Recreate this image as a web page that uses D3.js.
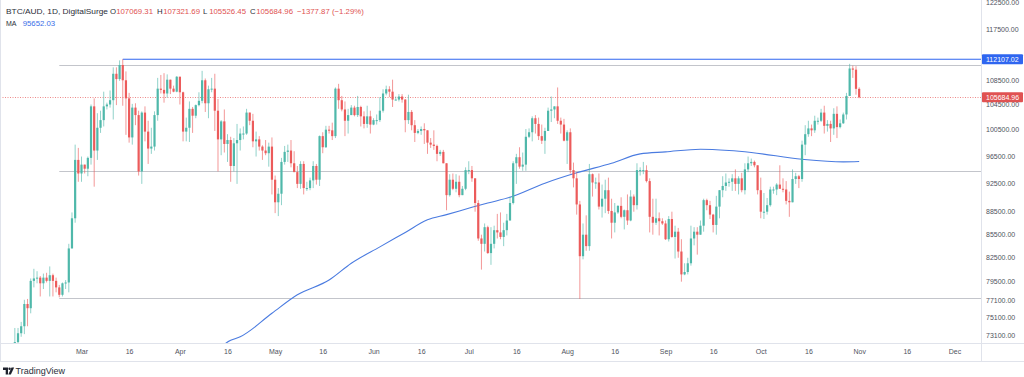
<!DOCTYPE html>
<html><head><meta charset="utf-8">
<script src="https://cdn.jsdelivr.net/npm/d3@7"></script>
<style>html,body{margin:0;padding:0;background:#fff;overflow:hidden}svg{display:block}</style>
</head><body><svg id="c" width="1024" height="377"></svg>
<script>
// ---------- DATA (AUD, thousands) ----------
const startDate = "2024-02-09";
const firstOpen = 69.5;
const closes = [
72.3,73.3,74.1,76.7,76.2,79.5,79.8,79.9,79.2,79.9,79.5,80.2,79.5,78.7,77.8,79.2,79.3,83.6,87.6,95.9,93.9,
95.2,94.6,96.2,104.2,97.3,100.8,102.0,104.2,104.5,105.2,109.6,108.7,111.1,108.5,105.5,99.3,104.0,102.8,94.2,103.2,100.2,97.6,97.9,102.8,107.1,106.9,106.3,108.6,107.1,106.6,109.1,
106.5,100.2,100.8,103.8,102.7,104.4,105.1,108.5,104.7,107.0,107.1,103.5,99.0,101.8,98.3,98.9,95.0,98.4,98.9,99.9,99.9,103.2,101.9,98.7,99.0,97.9,97.3,96.9,97.9,93.0,
89.8,91.0,95.6,97.1,97.3,95.4,94.1,92.4,95.3,91.8,91.8,92.9,95.0,93.0,99.5,97.8,100.5,100.4,99.5,107.1,105.2,103.7,101.9,102.8,104.0,102.8,104.1,102.6,101.4,102.6,101.3,
102.0,102.0,103.5,106.3,107.0,106.6,105.3,105.3,105.8,105.3,102.0,103.3,101.2,100.0,100.3,100.6,100.4,98.5,98.2,98.0,96.8,97.1,95.4,90.8,93.0,91.7,92.7,90.8,91.7,94.4,
94.4,93.2,89.7,84.9,84.2,86.4,83.0,84.2,86.0,85.7,85.1,86.0,87.3,89.7,95.4,96.3,94.9,95.2,99.4,100.1,102.3,101.4,99.5,98.8,100.3,103.5,103.7,104.2,101.9,101.3,98.8,
100.1,94.4,93.2,89.5,82.6,85.4,83.9,93.8,92.6,92.6,89.2,90.3,91.5,88.6,87.0,88.4,89.3,87.8,88.7,87.3,90.6,89.4,94.4,94.4,94.4,92.8,87.8,87.0,87.6,87.2,86.9,
84.8,87.5,85.1,85.8,83.2,80.3,80.6,81.7,84.9,85.8,85.4,86.6,90.1,89.4,88.1,86.7,89.2,91.5,92.1,92.6,92.7,93.2,92.4,93.2,91.5,94.5,95.4,95.6,95.1,91.5,
88.5,88.5,89.4,91.6,91.6,92.3,91.7,91.6,90.0,89.8,93.1,93.5,93.1,98.2,99.8,100.7,100.4,101.9,101.9,103.2,101.1,101.4,100.7,103.0,100.9,101.5,102.9,105.9,110.5,110.3,107.06931,
105.68496];
const highs = [
73.9,73.9,74.6,77.2,77.3,79.8,81.0,80.7,80.1,80.4,80.5,81.3,80.4,79.9,79.0,79.3,79.6,84.2,88.4,98.2,97.7,
96.4,95.2,96.4,104.5,105.5,103.1,103.5,106.6,104.8,106.8,110.7,110.7,111.9,112.10702,110.0,106.4,104.6,104.7,103.5,103.4,104.2,101.9,100.8,103.4,108.9,109.4,109.7,109.5,108.6,107.6,109.2,
109.1,106.6,102.4,105.0,104.1,104.5,106.5,110.1,108.8,107.6,108.9,109.6,105.4,102.0,103.7,99.8,99.4,99.2,101.4,100.7,101.0,103.8,103.2,103.0,100.2,99.5,98.1,98.9,98.5,99.3,
93.6,91.8,96.2,98.0,98.2,98.9,97.2,95.0,95.7,95.7,92.7,93.3,95.7,95.3,99.6,100.1,101.1,101.1,101.6,107.3,107.9,105.9,105.0,103.8,104.4,104.3,105.9,104.3,103.4,104.3,103.5,
102.3,102.9,105.7,107.0,107.6,107.5,108.6,105.8,106.2,106.2,105.4,106.1,103.6,102.0,100.6,101.0,101.5,99.8,99.2,100.4,98.2,97.4,97.4,95.4,93.8,93.9,93.8,93.6,92.1,94.8,
95.7,95.0,92.8,90.1,85.4,86.9,86.6,86.4,86.6,88.2,88.4,87.0,88.2,90.6,95.7,96.8,97.8,97.0,100.6,100.7,102.6,102.8,102.4,101.3,100.8,104.0,105.8,104.2,107.3,102.4,102.2,
100.4,100.7,95.5,94.1,90.0,86.9,88.0,95.3,93.9,93.3,93.9,92.3,93.0,93.3,90.3,89.7,89.4,90.5,88.8,90.9,91.5,90.9,95.4,94.8,95.6,95.1,93.2,90.3,90.3,88.4,87.6,
87.3,87.9,88.5,86.6,86.3,84.8,81.7,82.4,86.6,86.4,86.4,87.3,90.3,90.3,90.0,88.2,90.7,91.5,93.5,93.9,93.2,93.8,94.5,93.5,94.0,95.4,96.4,96.1,95.8,94.8,
93.3,91.1,90.4,92.0,92.0,92.5,95.1,93.2,92.8,91.3,94.5,94.0,93.7,98.8,101.2,101.9,101.3,102.7,102.4,103.8,104.3,102.0,101.9,103.9,104.2,102.1,103.2,106.4,111.3,111.0,110.9,
107.32169];
const lows = [
69.5,71.8,72.9,73.2,74.1,75.6,78.7,79.2,77.6,78.5,79.3,77.6,77.6,78.1,77.5,77.6,78.5,78.1,83.6,87.0,92.7,
92.7,93.9,93.5,95.2,92.0,95.9,100.0,101.0,103.7,104.0,102.1,104.4,108.4,104.3,99.7,98.5,98.2,101.2,93.6,92.4,98.7,95.3,96.8,97.3,101.9,106.3,104.8,105.6,106.2,106.5,106.5,
104.5,98.7,98.7,98.6,100.0,102.3,104.2,104.7,103.3,102.3,106.5,100.3,94.2,96.6,97.0,95.6,92.7,94.2,92.4,97.3,99.0,99.7,101.2,97.8,96.4,97.3,95.9,96.6,94.9,90.9,
88.3,87.9,89.4,95.2,95.6,94.8,94.1,91.8,91.7,90.9,91.4,91.5,91.8,92.3,92.1,96.9,97.7,99.9,98.9,99.2,103.8,103.4,99.5,99.9,102.8,102.6,102.5,101.0,100.7,100.8,99.9,
101.2,101.3,101.7,103.2,106.0,105.7,104.1,105.2,105.0,104.8,100.1,101.4,100.4,98.6,99.8,99.7,98.3,96.8,97.7,97.4,95.7,96.5,95.4,88.7,90.6,91.5,91.2,90.5,90.8,91.5,
93.8,92.7,88.5,84.6,80.9,83.2,82.9,81.5,83.6,84.9,84.8,83.9,85.3,87.3,89.5,92.4,94.6,94.3,94.3,99.2,98.7,99.9,98.9,98.3,96.8,100.3,101.7,102.3,101.4,99.9,98.7,
95.3,93.9,91.9,88.1,77.3,82.2,83.3,83.3,90.6,91.7,88.8,87.7,88.3,88.2,84.9,85.7,88.2,87.6,86.1,86.7,87.2,88.5,88.8,93.6,93.8,92.6,85.7,85.4,86.7,85.3,86.7,
84.7,84.5,85.0,82.3,82.4,79.4,80.2,80.3,81.4,84.0,82.8,85.5,85.8,88.7,87.5,85.7,85.4,87.6,90.5,91.4,92.0,91.4,91.4,90.9,91.2,90.9,94.1,95.0,94.8,90.9,
87.6,87.5,88.1,89.2,91.0,90.8,91.7,91.2,89.5,87.8,89.8,92.4,91.8,92.7,96.6,99.4,99.5,100.0,101.3,101.7,99.9,100.2,98.6,99.7,99.2,100.7,101.4,102.1,105.9,108.9,106.1,
105.52645];

const maDates = ["2024-04-10","2024-04-17","2024-04-20","2024-04-30","2024-05-08","2024-05-18","2024-05-25","2024-06-03","2024-06-11","2024-06-18","2024-06-24","2024-07-02","2024-07-07","2024-07-14","2024-07-25","2024-08-04","2024-08-15","2024-08-24","2024-09-01","2024-09-12","2024-09-21","2024-09-28","2024-10-14","2024-10-27","2024-11-01"];
const maValues = [70.6,72.5,72.9,75.6,77.8,79.6,81.7,83.8,85.7,87.4,88.1,89.1,89.7,90.5,92.5,94.0,95.4,96.8,97.1,97.5,97.3,97.0,96.0,95.6,95.65203];

const priceTicks = [122500,117500,112500,108500,104500,100500,96500,92500,88500,85500,82500,79500,77100,75100,73100];
const timeTicks = ["2024-03-01","2024-03-16","2024-04-01","2024-04-16","2024-05-01","2024-05-16","2024-06-01","2024-06-16","2024-07-01","2024-07-16","2024-08-01","2024-08-16","2024-09-01","2024-09-16","2024-10-01","2024-10-16","2024-11-01","2024-11-16","2024-12-01"];
const levelValues = [111100, 94250, 77400];
const levelStart = "2024-02-23";
const resistanceValue = 112107.02;
const resistanceStart = "2024-03-14";
const lastPrice = 105684.96;
const symbolText = "BTC/AUD, 1D, DigitalSurge";
const ohlcLabels = ["O","H","L","C"];
const ohlcValues = ["107069.31","107321.69","105526.45","105684.96"];
const changeText = "\u22121377.87 (\u22121.29%)";
const maLabel = "MA";
const maLast = "95652.03";

// ---------- LAYOUT ----------
const W = 1024, H = 377;
const plotR = 981, plotB = 343, axisB = 361;
const UP = "#4fb8aa", DOWN = "#ec5b5b", BLUE = "#2f66f0", MAC = "#4a7be0";
const parse = d3.utcParse("%Y-%m-%d");
const svg = d3.select("#c");

const x = d3.scaleUtc().domain([parse("2024-03-01"), parse("2024-12-01")]).range([81.5, 954.4]);
const y = d3.scaleLog().domain([73100, 122500]).range([335.0, 2]);

const start = parse(startDate);
const candles = closes.map((c, i) => {
  const o = i === 0 ? firstOpen : closes[i - 1];
  const cc = c * 1000, oo = o * 1000;
  return {d: d3.utcDay.offset(start, i), o: oo, c: cc,
          h: Math.max(highs[i] * 1000, oo, cc), l: Math.min(lows[i] * 1000, oo, cc)};
});

svg.append("rect").attr("width", W).attr("height", H).attr("fill", "#fff");
svg.append("defs").append("clipPath").attr("id", "plot")
  .append("rect").attr("x", 0).attr("y", 0).attr("width", plotR).attr("height", plotB);

const g = svg.append("g").attr("clip-path", "url(#plot)");

// levels
const lx0 = x(parse(levelStart));
levelValues.forEach(v => {
  g.append("line").attr("x1", lx0).attr("x2", plotR).attr("y1", Math.round(y(v)) + 0.5).attr("y2", Math.round(y(v)) + 0.5)
    .attr("stroke", "#c3c5cb").attr("stroke-width", 1);
});
// resistance
g.append("line").attr("x1", x(parse(resistanceStart))).attr("x2", plotR)
  .attr("y1", y(resistanceValue)).attr("y2", y(resistanceValue))
  .attr("stroke", BLUE).attr("stroke-width", 1.1);
// last price dotted
g.append("line").attr("x1", 0).attr("x2", plotR).attr("y1", Math.round(y(lastPrice)) + 0.5).attr("y2", Math.round(y(lastPrice)) + 0.5)
  .attr("stroke", "#ee8a8a").attr("stroke-width", 1).attr("stroke-dasharray", "1,1.5");

// MA
const maPts = maDates.map((d, i) => [parse(d), maValues[i] * 1000]);
g.append("path").datum(maPts)
  .attr("d", d3.line().x(d => x(d[0])).y(d => y(d[1])).curve(d3.curveMonotoneX))
  .attr("fill", "none").attr("stroke", MAC).attr("stroke-width", 1.1);

// candles
const cg = g.append("g");
candles.forEach(k => {
  const cx = x(k.d);
  const col = k.c >= k.o ? UP : DOWN;
  cg.append("line").attr("x1", cx).attr("x2", cx).attr("y1", y(k.h)).attr("y2", y(k.l))
    .attr("stroke", col).attr("stroke-width", 0.9).attr("stroke-opacity", 0.7);
  const top = y(Math.max(k.o, k.c)), bot = y(Math.min(k.o, k.c));
  cg.append("rect").attr("x", cx - 1.1).attr("width", 2.2)
    .attr("y", top).attr("height", Math.max(1, bot - top)).attr("fill", col);
});

// frame lines
const fr = svg.append("g").attr("stroke", "#e0e3eb").attr("stroke-width", 1);
fr.append("line").attr("x1", 0).attr("x2", W).attr("y1", plotB + 0.5).attr("y2", plotB + 0.5);
fr.append("line").attr("x1", 0).attr("x2", W).attr("y1", axisB + 0.5).attr("y2", axisB + 0.5);
fr.append("line").attr("x1", plotR + 0.5).attr("x2", plotR + 0.5).attr("y1", 0).attr("y2", axisB);
fr.append("line").attr("x1", 0.5).attr("x2", 0.5).attr("y1", 0).attr("y2", axisB);

// price axis
const ya = svg.append("g").attr("transform", `translate(${plotR},0)`)
  .call(d3.axisRight(y).tickValues(priceTicks).tickFormat(d3.format(".2f")).tickSize(0).tickPadding(5));
ya.select(".domain").remove();
ya.selectAll("text").attr("font-family", "Liberation Sans, Arial, sans-serif").attr("font-size", 7).attr("fill", "#50535e");

// price labels
function tag(v, fill, txt) {
  const yy = y(v);
  svg.append("rect").attr("x", plotR + 1).attr("y", yy - 5).attr("width", 41).attr("height", 10).attr("fill", fill).attr("rx", 1);
  svg.append("text").attr("x", plotR + 5).attr("y", yy).attr("dy", "0.35em").attr("fill", "#fff")
    .attr("font-family", "Liberation Sans, Arial, sans-serif").attr("font-size", 7).text(txt);
}
tag(resistanceValue, BLUE, d3.format(".2f")(resistanceValue));
tag(lastPrice, "#e05252", d3.format(".2f")(lastPrice));

// time axis
const fmt = d => d.getUTCDate() === 1 ? d3.utcFormat("%b")(d) : String(d.getUTCDate());
const xa = svg.append("g").attr("transform", `translate(0,${plotB})`)
  .call(d3.axisBottom(x).tickValues(timeTicks.map(parse)).tickFormat(fmt).tickSize(0).tickPadding(6));
xa.select(".domain").remove();
xa.selectAll("text").attr("font-family", "Liberation Sans, Arial, sans-serif").attr("font-size", 7).attr("fill", "#50535e");

// header
const hf = "Liberation Sans, Arial, sans-serif";
function htext(xp, yp, txt, fill, len) {
  const t = svg.append("text").attr("x", xp).attr("y", yp).attr("dy", "0.35em").attr("font-family", hf)
    .attr("font-size", 7.8).attr("fill", fill).text(txt);
  if (len) t.attr("textLength", len).attr("lengthAdjust", "spacingAndGlyphs");
  return t;
}
htext(6, 11, symbolText, "#2a2e39", 102);
const ohX = [110, 157, 203, 250];
ohlcLabels.forEach((l, i) => {
  htext(ohX[i], 11, l, "#2a2e39");
  htext(ohX[i] + 6.2, 11, ohlcValues[i], "#e05252");
});
htext(297, 11, changeText, "#e05252");
htext(6, 23, maLabel, "#2a2e39", 10.5);
htext(22.7, 23, maLast, "#3a6ee8");

// TradingView logo
const lg = svg.append("g").attr("fill", "#1e222d");
lg.append("path").attr("d", "M3,367.5 h5 v7 h-2.3 v-4.6 h-2.7 z");
lg.append("circle").attr("cx", 9.6).attr("cy", 368.8).attr("r", 1.2);
lg.append("path").attr("d", "M11.5,367.5 h2.6 l-3.2,7 h-2.6 z");
svg.append("text").attr("x", 15.5).attr("y", 371).attr("dy", "0.35em").attr("font-family", hf)
  .attr("font-size", 9).attr("fill", "#2a2e39").text("TradingView");
</script></body></html>
